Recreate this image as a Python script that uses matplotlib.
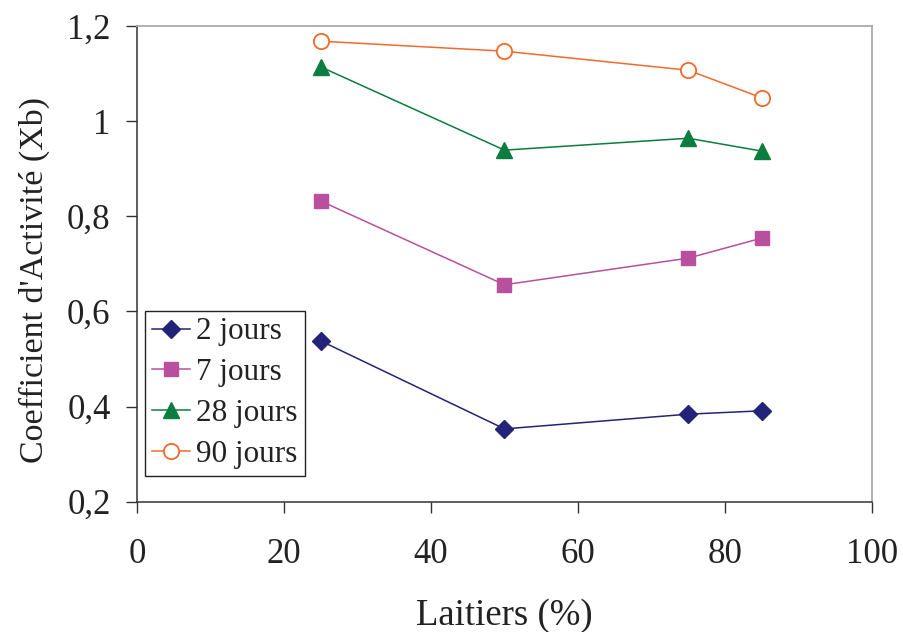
import matplotlib
matplotlib.use("Agg")
import matplotlib.pyplot as plt

plt.rcParams['font.family'] = ['Liberation Serif', 'DejaVu Serif']

laitiers = [25, 50, 75, 85]
j2 = [0.538, 0.353, 0.384, 0.391]
j7 = [0.832, 0.656, 0.712, 0.754]
j28 = [1.114, 0.939, 0.964, 0.937]
j90 = [1.168, 1.147, 1.107, 1.049]
series_labels = ['2 jours', '7 jours', '28 jours', '90 jours']
xticks = [0, 20, 40, 60, 80, 100]
yticks = [0.2, 0.4, 0.6, 0.8, 1.0, 1.2]
ytick_labels = ['0,2', '0,4', '0,6', '0,8', '1', '1,2']

fig = plt.figure(figsize=(9.04, 6.32), dpi=100)
ax = fig.add_axes([0.1515, 0.2062, 0.8131, 0.7527])

ax.plot(laitiers, j2, color='#23237A', marker='D', markersize=9, lw=1.1, label=series_labels[0])
ax.plot(laitiers, j7, color='#B8509E', marker='s', markersize=10, lw=1.1, label=series_labels[1])
ax.plot(laitiers, j28, color='#0B7D3E', marker='^', markersize=11, lw=1.1, label=series_labels[2])
ax.plot(laitiers, j90, color='#F26A2A', marker='o', markersize=11, markerfacecolor='white',
        markeredgewidth=1.3, lw=1.1, label=series_labels[3])

ax.set_xlim(0, 100)
ax.set_ylim(0.2, 1.2)
ax.set_xticks(xticks)
ax.set_xticklabels([str(t) for t in xticks])
ax.set_yticks(yticks)
ax.set_yticklabels(ytick_labels)

for s in ['left', 'bottom']:
    ax.spines[s].set_color('#333333')
    ax.spines[s].set_linewidth(1.1)
for s in ['top', 'right']:
    ax.spines[s].set_color('#AAAAAA')
    ax.spines[s].set_linewidth(1.3)

ax.tick_params(axis='both', direction='out', length=8, width=1.0, color='#333333',
               labelsize=25, labelcolor='#222222')
ax.tick_params(axis='x', pad=18)
ax.tick_params(axis='y', pad=11)

ax.set_xlabel('Laitiers (%)', fontsize=26.5, color='#222222', labelpad=20)
ax.set_ylabel("Coefficient d'Activité (Xb)", fontsize=24.5, color='#222222', labelpad=12)
ax.yaxis.label.set_y(0.466)

leg = ax.legend(loc='lower left', bbox_to_anchor=(0.011, 0.054), borderaxespad=0,
                fancybox=False, edgecolor='#222222', framealpha=1, fontsize=22.5,
                handlelength=1.22, handletextpad=0.2, labelspacing=0.38,
                borderpad=0.22)
leg.get_frame().set_linewidth(1.0)
for t in leg.get_texts():
    t.set_color('#222222')

fig.savefig('out.png', dpi=100)
